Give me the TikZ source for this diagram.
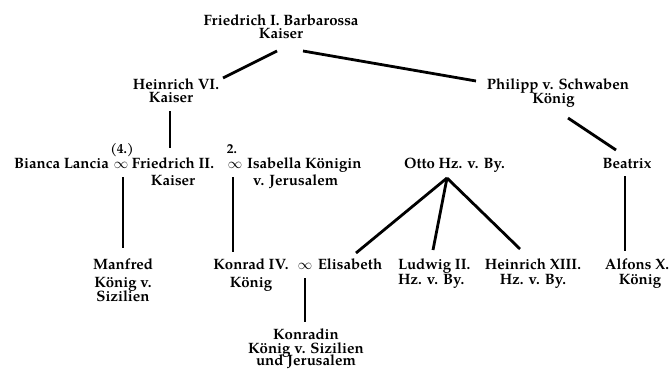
\documentclass[tikz,border=0pt]{standalone}
\usepackage{fontspec}
\setmainfont{TeX Gyre Pagella}
\begin{document}
\lineskiplimit=-50pt
% node positions are given at the baseline of each node's last line
\begin{tikzpicture}[x=1pt,y=-1pt,
  person/.style={font=\bfseries\fontsize{15}{13}\selectfont,
    inner sep=0pt, anchor=base, align=center},
  marr/.style={inner sep=0pt, anchor=base, font=\fontsize{15.5}{13}\selectfont},
  ordn/.style={inner sep=0pt, anchor=base, font=\bfseries\fontsize{13.5}{13}\selectfont},
  link/.style={line width=2.8pt}]
\useasboundingbox (0,0) rectangle (672,372);

% generation 1 and 2
\node[person] (barb)  at (281,38) {Friedrich I. Barbarossa\\Kaiser};
\node[person] (hein6) at (176,102) {Heinrich VI.\\Kaiser\hspace*{10pt}};
\node[person] (phil)  at (558,103) {Philipp v. Schwaben\\[1pt]König\hspace*{9pt}};

% generation 3 with marriages
\node[person] (bianca) at (61.5,168) {Bianca Lancia};
\node[marr]   (m1)     at (121,168) {$\infty$};
\node[ordn]   (o1)     at (122,153) {(4.)};
\node[person] (fried2) at (173,185) {Friedrich II.\\[4pt]Kaiser};
\node[marr]   (m2)     at (235,168) {$\infty$};
\node[ordn]   (o2)     at (232,153) {2.};
\node[person, anchor=base west, align=left] (isab) at (247,185)
  {Isabella Königin\\[4pt]\hspace*{6pt}v. Jerusalem};
\node[person] (otto) at (454.5,168) {Otto Hz. v. By.};
\node[person] (beat) at (627,168) {Beatrix};

% generation 4
\node[person] (manf) at (123,301) {Manfred\\[5pt]König v.\\[1pt]Sizilien};
\node[person] (konr) at (251,287) {Konrad IV.\\[5pt]König};
\node[marr]   (m3)   at (305,269) {$\infty$};
\node[person] (elis) at (350,269) {Elisabeth};
\node[person, anchor=base west, align=left] (ludw) at (398,284) {Ludwig II.\\[2pt]Hz. v. By.};
\node[person] (hein13) at (533,284) {Heinrich XIII.\\[2pt]Hz. v. By.};
\node[person] (alf)  at (637,284) {Alfons X.\\[2pt]\hspace*{6pt}König};

% generation 5
\node[person] (konrd) at (306,365) {Konradin\\[1.5pt]König v. Sizilien\\[-1.5pt]und Jerusalem};

% descent lines
\draw[link] ([shift={(-4,13)}]barb.base) -- ([shift={(47,-24)}]hein6.base);
\draw[link] ([shift={(22,13)}]barb.base) -- ([shift={(-82,-22)}]phil.base);
\draw[link] ([shift={(-6,9)}]hein6.base) -- ([shift={(-3,-37)}]fried2.base);
\draw[link] ([shift={(10,15)}]phil.base) -- ([shift={(-11,-18)}]beat.base);
\draw[link] ([shift={(2,9)}]m1.base) -- ([shift={(0,-53)}]manf.base);
\draw[link] ([shift={(-2,9)}]m2.base) -- ([shift={(-18,-35)}]konr.base);
\draw[link] ([shift={(-7.5,10)}]otto.base) -- ([shift={(6,-16)}]elis.base);
\draw[link] ([shift={(-7.5,10)}]otto.base) -- ([shift={(35,-34)}]ludw.base west);
\draw[link] ([shift={(-7.5,10)}]otto.base) -- ([shift={(-13,-35)}]hein13.base);
\draw[link] ([shift={(-2,8)}]beat.base) -- ([shift={(-12,-33)}]alf.base);
\draw[link] ([shift={(0,9)}]m3.base) -- ([shift={(-1,-43)}]konrd.base);
\end{tikzpicture}
\end{document}
